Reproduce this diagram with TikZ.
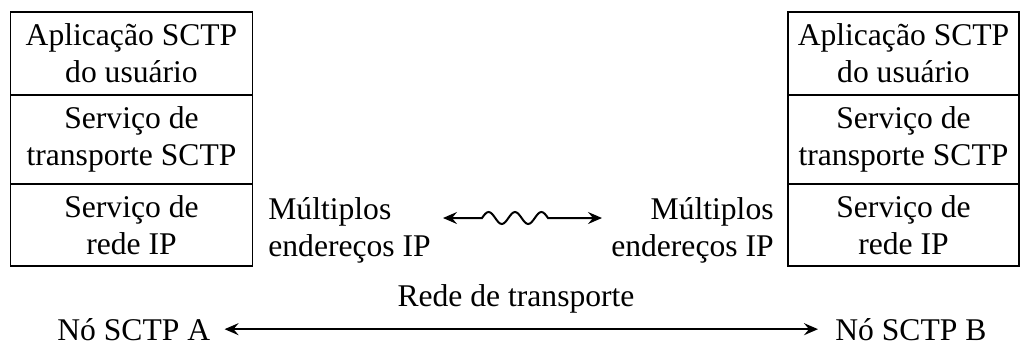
\documentclass[tikz,border=0pt]{standalone}
\usepackage{fontspec}
\setmainfont{Liberation Serif}
\usetikzlibrary{arrows.meta}
\tikzset{
  txt/.style={font=\fontsize{15.8}{18.5}\selectfont},
  layer/.style={txt, draw, line width=0.6pt, align=center, inner sep=0pt},
  lw/.style={layer, minimum width=121pt},
  rw/.style={layer, minimum width=115.5pt},
  arr/.style={line width=1pt, {Stealth[length=7pt,width=6pt,inset=2.5pt]}-{Stealth[length=7pt,width=6pt,inset=2.5pt]}}
}
\begin{document}
\begin{tikzpicture}[x=0.5pt,y=-0.5pt]
\useasboundingbox (0,0) rectangle (1028,344);
% left stack
\node[lw, minimum height=41.5pt] (la1) at (131.5,53.5) {Aplicação SCTP\\do usuário};
\node[lw, minimum height=44.5pt] (la2) at (131.5,139.5) {Serviço de\\transporte SCTP};
\node[lw, minimum height=41pt] (la3) at (131.5,225) {Serviço de\\rede IP};
% right stack
\node[rw, minimum height=41.5pt] (ra1) at (903.5,53.5) {Aplicação SCTP\\do usuário};
\node[rw, minimum height=44.5pt] (ra2) at (903.5,139.5) {Serviço de\\transporte SCTP};
\node[rw, minimum height=41pt] (ra3) at (903.5,225) {Serviço de\\rede IP};
% multiple addresses
\node[txt, align=left, anchor=west, inner sep=0pt] (lm) at (268,230) {Múltiplos\\endereços IP};
\node[txt, align=right, anchor=east, inner sep=0pt] (rm) at (774,230) {Múltiplos\\endereços IP};
\coordinate (wl) at (443,218);
\coordinate (wr) at (602,218);
\draw[arr] (wl) -- ++(39,0) sin ++(6.6,-6) cos ++(6.6,6) sin ++(6.6,6) cos ++(6.6,-6)
  sin ++(6.6,-6) cos ++(6.6,6) sin ++(6.6,6) cos ++(6.6,-6) sin ++(6.6,-6) cos ++(6.6,6) -- (wr);
% bottom
\node[txt, anchor=base, inner sep=0pt] (net) at (516,306) {Rede de transporte};
\node[txt, anchor=base west, inner xsep=0pt, inner ysep=0pt] (nA) at (57,340) {Nó SCTP A};
\node[txt, anchor=base west, inner xsep=0pt, inner ysep=0pt] (nB) at (835,340) {Nó SCTP B};
\draw[arr] ([xshift=7pt]nA.east) -- ([xshift=-8.5pt]nB.west);
\end{tikzpicture}
\end{document}
